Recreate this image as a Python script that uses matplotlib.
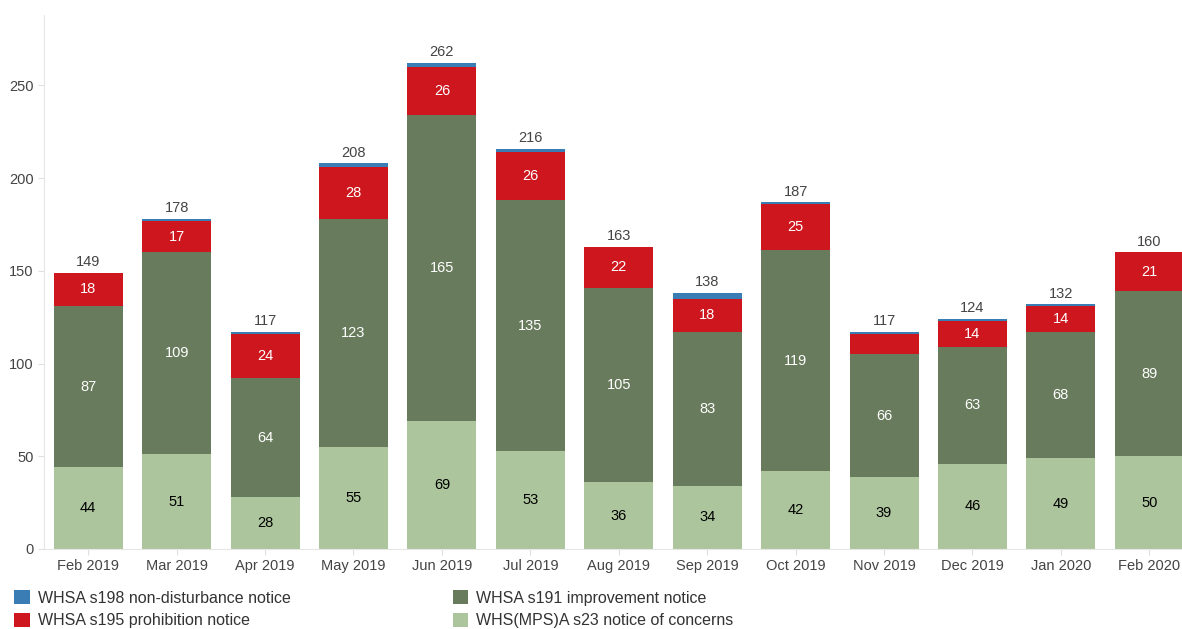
import matplotlib.pyplot as plt
import numpy as np

plt.rcParams['font.family'] = ['Liberation Sans', 'DejaVu Sans']

months = ['Feb 2019', 'Mar 2019', 'Apr 2019', 'May 2019', 'Jun 2019', 'Jul 2019',
          'Aug 2019', 'Sep 2019', 'Oct 2019', 'Nov 2019', 'Dec 2019', 'Jan 2020', 'Feb 2020']
s23 = [44, 51, 28, 55, 69, 53, 36, 34, 42, 39, 46, 49, 50]
s191 = [87, 109, 64, 123, 165, 135, 105, 83, 119, 66, 63, 68, 89]
s195 = [18, 17, 24, 28, 26, 26, 22, 18, 25, 11, 14, 14, 21]
s198 = [0, 1, 1, 2, 2, 2, 0, 3, 1, 1, 1, 1, 0]

c_light = '#acc59c'
c_dark = '#687b5c'
c_red = '#cd161d'
c_blue = '#3a7db5'

fig = plt.figure(figsize=(11.82, 6.29), dpi=100)
ax = fig.add_axes([44 / 1182, 1 - 549 / 629, 1 - 44 / 1182, (549 - 15) / 629])

x = np.arange(len(months))
w = 0.78
b1 = np.array(s23)
b2 = b1 + np.array(s191)
b3 = b2 + np.array(s195)
tot = b3 + np.array(s198)

ax.bar(x, s23, w, color=c_light, label='WHS(MPS)A s23 notice of concerns')
ax.bar(x, s191, w, bottom=b1, color=c_dark, label='WHSA s191 improvement notice')
ax.bar(x, s195, w, bottom=b2, color=c_red, label='WHSA s195 prohibition notice')
ax.bar(x, s198, w, bottom=b3, color=c_blue, label='WHSA s198 non-disturbance notice')

for i in range(len(months)):
    ax.text(x[i], s23[i] / 2, str(s23[i]), ha='center', va='center', fontsize=10.5, color='black')
    ax.text(x[i], b1[i] + s191[i] / 2, str(s191[i]), ha='center', va='center', fontsize=10.5, color='white')
    if s195[i] >= 12:
        ax.text(x[i], b2[i] + s195[i] / 2, str(s195[i]), ha='center', va='center', fontsize=10.5, color='white')
    ax.text(x[i], tot[i] + 2, str(tot[i]), ha='center', va='bottom', fontsize=10.5, color='#444444')

ax.set_xlim(-0.5, 12.37)
ax.set_ylim(0, 288)
ax.set_yticks([0, 50, 100, 150, 200, 250])
ax.set_xticks(x)
ax.set_xticklabels(months)
ax.tick_params(axis='both', colors='#e0e0e0', labelcolor='#444444', labelsize=10.5, length=4)
ax.tick_params(axis='x', pad=3)
for s in ['top', 'right']:
    ax.spines[s].set_visible(False)
for s in ['left', 'bottom']:
    ax.spines[s].set_color('#e6e6e6')

h, l = ax.get_legend_handles_labels()
order = [3, 2, 1, 0]
fig.legend([h[i] for i in order], [l[i] for i in order], ncol=2, loc='lower left',
           bbox_to_anchor=(0.0, -0.022), frameon=False, fontsize=11.5, handlelength=1.0,
           handleheight=1.0, handletextpad=0.5, columnspacing=10.1, labelspacing=0.45,
           labelcolor='#333333')

fig.savefig('out.png', dpi=100)
